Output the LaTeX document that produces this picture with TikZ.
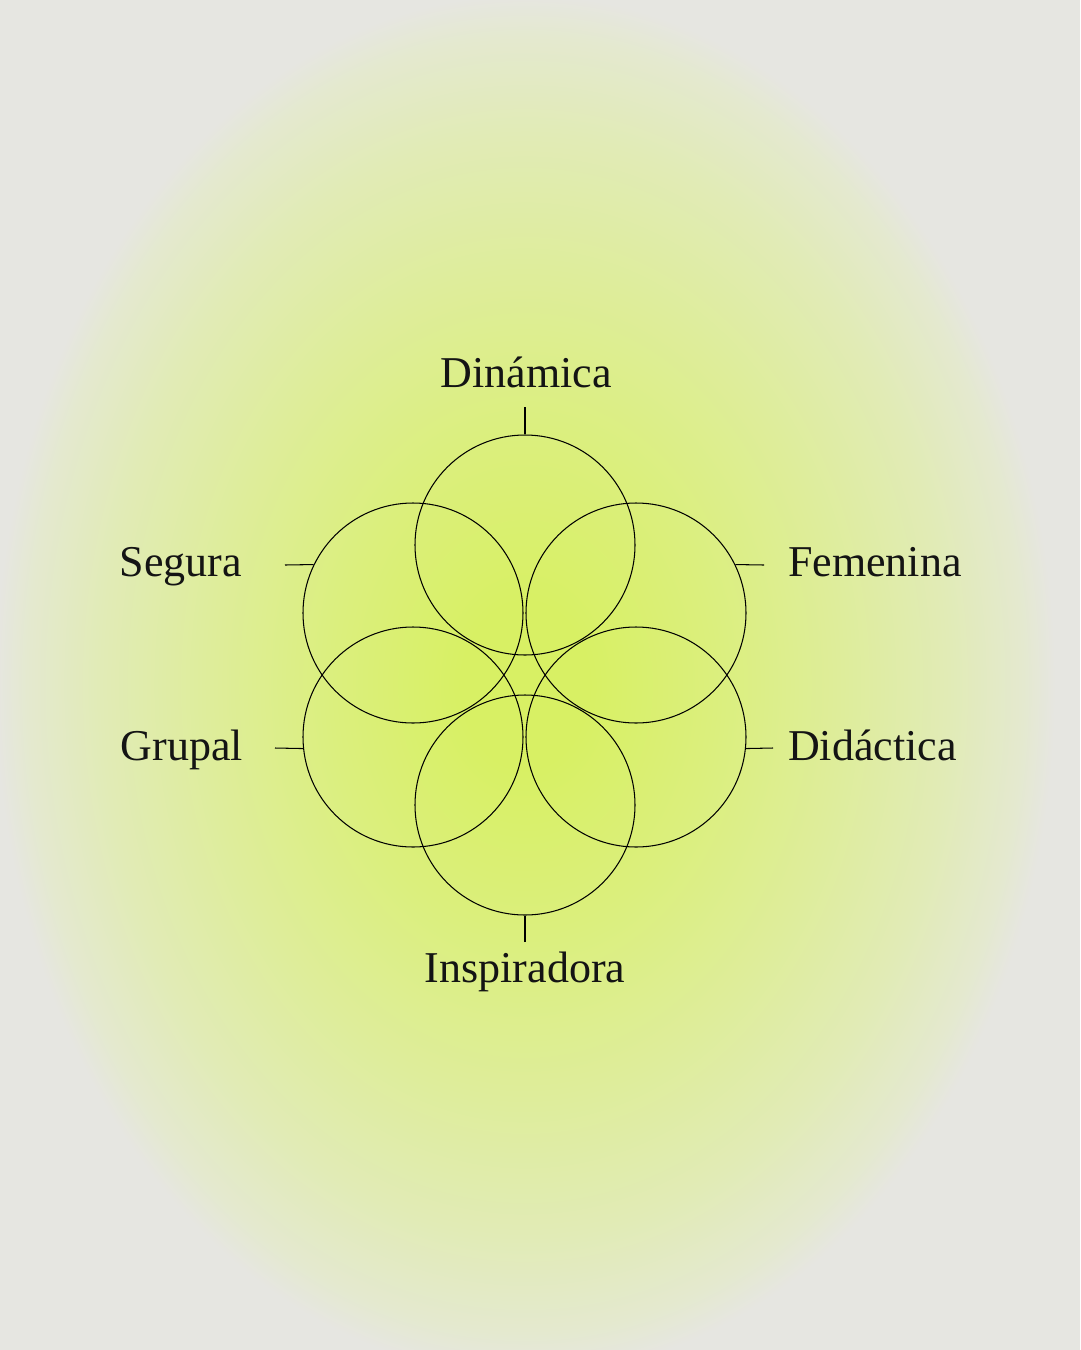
\documentclass[tikz,border=0pt]{standalone}
\usepackage{fontspec}
\setmainfont{Liberation Serif}
\definecolor{bg}{RGB}{230,230,225}
\definecolor{g0}{RGB}{216,240,100}
\definecolor{g1}{RGB}{219,239,125}
\definecolor{g2}{RGB}{222,237,155}
\definecolor{g3}{RGB}{225,235,182}
\definecolor{g4}{RGB}{228,233,207}
\pgfdeclareradialshading{glow}{\pgfpoint{0bp}{0bp}}{color(0bp)=(g0); color(3bp)=(g0); color(9bp)=(g1); color(15bp)=(g2); color(20bp)=(g3); color(23.5bp)=(g4); color(25bp)=(bg); color(50bp)=(bg)}
\begin{document}
\begin{tikzpicture}[x=1pt,y=-1pt,
  ring/.style={circle,draw=black,line width=1.05pt,minimum size=220pt,inner sep=0pt},
  tick/.style={draw=black,line width=1.05pt},
  lbl/.style={font=\fontsize{44}{50}\selectfont,text=black!92,inner sep=0pt}]
\useasboundingbox (0,0) rectangle (1080,1350);
\fill[bg] (0,0) rectangle (1080,1350);
\shade[shading=glow] (525,685) ellipse [x radius=530, y radius=690];
% circles
\node[ring] (cT) at (525,545) {};
\node[ring] (cUL) at (413,613) {};
\node[ring] (cUR) at (636,613) {};
\node[ring] (cLL) at (413,737) {};
\node[ring] (cLR) at (636,737) {};
\node[ring] (cB) at (525,805) {};
% labels
\node[lbl,anchor=base] (lT) at (526,387) {Dinámica};
\node[lbl,anchor=base east] (lS) at (242,576) {Segura};
\node[lbl,anchor=base west] (lF) at (788,576) {Femenina};
\node[lbl,anchor=base east] (lG) at (243,760) {Grupal};
\node[lbl,anchor=base west] (lD) at (788,760) {Didáctica};
\node[lbl,anchor=base] (lB) at (525,982) {Inspiradora};
% tick ends
\coordinate (tT) at (525,407);
\coordinate (tS) at (285,565);
\coordinate (tF) at (764,565);
\coordinate (tG) at (275,748);
\coordinate (tD) at (773,748);
\coordinate (tB) at (525,942);
\draw[tick] (tT) -- (cT.north);
\draw[tick] (tS) -- (cUL.154);
\draw[tick] (tF) -- (cUR.26);
\draw[tick] (tG) -- (cLL.186);
\draw[tick] (tD) -- (cLR.354);
\draw[tick] (tB) -- (cB.south);
\end{tikzpicture}
\end{document}
